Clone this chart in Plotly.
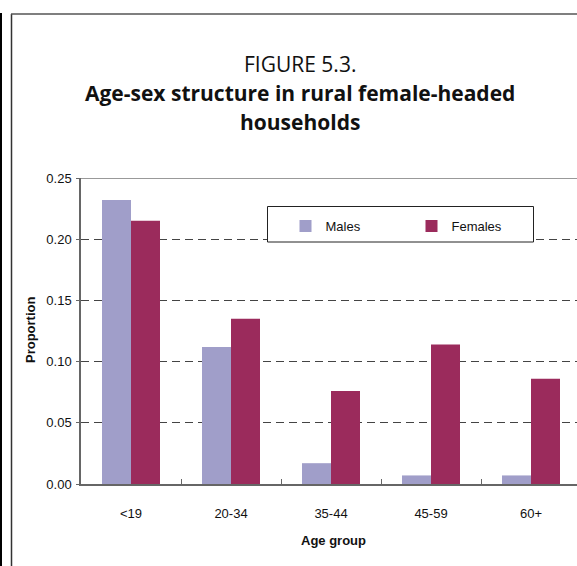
import plotly.graph_objects as go

categories = ["<19", "20-34", "35-44", "45-59", "60+"]
males = [0.232, 0.112, 0.017, 0.007, 0.007]
females = [0.215, 0.135, 0.076, 0.114, 0.086]
y_ticks = [0.0, 0.05, 0.10, 0.15, 0.20, 0.25]
y_tick_labels = ["0.00", "0.05", "0.10", "0.15", "0.20", "0.25"]

W, H = 577, 566
L, R, T, B = 81, 0, 178, 82
PW, PH = W - L - R, H - T - B

def px(x):
    return (x - L) / PW

def py(y):
    return (H - B - y) / PH

fig = go.Figure()
fig.add_trace(go.Bar(x=categories, y=males, name="Males", marker_color="#A09EC9",
                     marker_line_width=0))
fig.add_trace(go.Bar(x=categories, y=females, name="Females", marker_color="#9B2B5C",
                     marker_line_width=0))

axfont = dict(family="Liberation Sans, Arial", size=13, color="#111")

fig.update_layout(
    width=W, height=H,
    margin=dict(l=L, r=R, t=T, b=B, pad=0),
    paper_bgcolor="white", plot_bgcolor="white",
    barmode="group", bargap=0.42, bargroupgap=0,
    showlegend=True,
    legend=dict(orientation="h", x=px(285.5), y=py(211), xanchor="left", yanchor="top",
                bgcolor="rgba(0,0,0,0)", borderwidth=0, font=axfont,
                entrywidth=81, itemwidth=30),
    xaxis=dict(range=[-0.5, 4.46], showline=True, linecolor="#666", linewidth=1.5,
               ticks="inside", ticklen=5, tickcolor="#666", tickson="boundaries",
               showgrid=False, tickfont=axfont, ticklabelstandoff=17, fixedrange=True),
    yaxis=dict(range=[0, 0.25], tickvals=y_ticks, ticktext=y_tick_labels,
               showline=True, linecolor="#666", linewidth=1.5,
               ticks="outside", ticklen=3, tickcolor="#666",
               showgrid=True, gridcolor="#444", gridwidth=1, griddash="8px,5px",
               zeroline=False, tickfont=axfont, ticklabelstandoff=2, fixedrange=True),
    font=axfont,
)

shapes = [
    dict(type="line", xref="paper", yref="y", x0=0, x1=1, y0=0.25, y1=0.25,
         line=dict(color="#777", width=1.5), layer="above"),
    dict(type="rect", xref="paper", yref="paper", x0=px(267.5), x1=px(533.5),
         y0=py(242), y1=py(206.5), fillcolor="white",
         line=dict(color="#222", width=1), layer="above"),
    dict(type="line", xref="paper", yref="paper", x0=px(1), x1=px(1), y0=py(13), y1=py(566),
         line=dict(color="#000", width=2)),
    dict(type="line", xref="paper", yref="paper", x0=px(11.5), x1=px(11.5), y0=py(14), y1=py(566),
         line=dict(color="#333", width=1.5)),
    dict(type="line", xref="paper", yref="paper", x0=px(11), x1=px(577), y0=py(14), y1=py(14),
         line=dict(color="#555", width=1.5)),
]
fig.update_layout(shapes=shapes)

tfont = "Open Sans, Noto Sans, sans-serif"
annotations = [
    dict(text="FIGURE 5.3.", x=px(300), y=py(64), font=dict(family=tfont, size=21, color="#111")),
    dict(text="<b>Age-sex structure in rural female-headed</b>", x=px(300), y=py(93),
         font=dict(family=tfont, size=21, color="#111")),
    dict(text="<b>households</b>", x=px(300), y=py(122), font=dict(family=tfont, size=21, color="#111")),
    dict(text="<b>Proportion</b>", x=px(30), y=py(330), textangle=-90,
         font=dict(family="Liberation Sans, Arial", size=13, color="#111")),
    dict(text="<b>Age group</b>", x=px(333), y=py(540),
         font=dict(family="Liberation Sans, Arial", size=13, color="#111")),
]
for a in annotations:
    a.update(xref="paper", yref="paper", showarrow=False, xanchor="center", yanchor="middle")
fig.update_layout(annotations=annotations)

fig.write_html("out.html", config={"displayModeBar": False},
               post_script="document.body.style.margin='0px';document.body.style.overflow='hidden';")
